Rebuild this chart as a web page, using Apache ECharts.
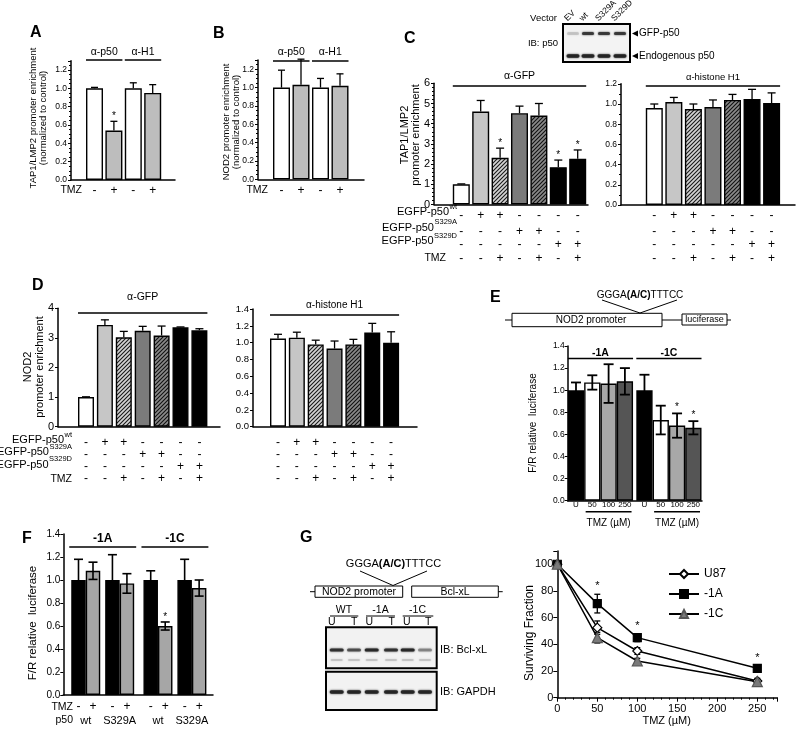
<!DOCTYPE html>
<html><head><meta charset="utf-8">
<script src="https://cdn.jsdelivr.net/npm/echarts@6/dist/echarts.min.js"></script>
<style>html,body{margin:0;padding:0;background:#fff}#c{width:799px;height:735px}</style>
</head><body><div id="c"></div><script>
const FONT = '"Liberation Sans", Arial, Helvetica, sans-serif';

// ---------------- DATA ----------------
const A_groups = ['α-p50', 'α-H1'];
const A_values = [1.0, 0.54, 1.0, 0.95];
const A_errors = [0.01, 0.10, 0.06, 0.09];
const A_tmz = ['-', '+', '-', '+'];

const B_values = [1.0, 1.03, 1.0, 1.02];
const B_errors = [0.19, 0.28, 0.10, 0.13];
const B_tmz = ['-', '+', '-', '+'];

const C_gfp_values = [1.0, 4.6, 2.31, 4.52, 4.4, 1.85, 2.26];
const C_gfp_errors = [0.02, 0.55, 0.48, 0.35, 0.6, 0.35, 0.44];
const C_h1_values = [0.96, 1.02, 0.95, 0.97, 1.04, 1.05, 1.01];
const C_h1_errors = [0.04, 0.045, 0.05, 0.07, 0.055, 0.095, 0.10];
const C_blotLanes = ['EV', 'wt', 'S329A', 'S329D'];

const D_gfp_values = [1.0, 3.44, 3.02, 3.24, 3.08, 3.36, 3.26];
const D_gfp_errors = [0.01, 0.17, 0.2, 0.15, 0.32, 0.01, 0.05];
const D_h1_values = [1.05, 1.06, 0.98, 0.93, 0.98, 1.12, 1.0];
const D_h1_errors = [0.05, 0.065, 0.05, 0.09, 0.06, 0.11, 0.13];

const rowWt    = ['-', '+', '+', '-', '-', '-', '-'];
const rowS329A = ['-', '-', '-', '+', '+', '-', '-'];
const rowS329D = ['-', '-', '-', '-', '-', '+', '+'];
const rowTMZ   = ['-', '-', '+', '-', '+', '-', '+'];

const E_values = [1.0, 1.07, 1.06, 1.08, 1.0, 0.73, 0.68, 0.66];
const E_errors = [0.07, 0.065, 0.175, 0.12, 0.14, 0.13, 0.11, 0.06];
const E_doses = ['U', '50', '100', '250', 'U', '50', '100', '250'];
const E_groups = ['-1A', '-1C'];

const F_values = [1.0, 1.08, 1.0, 0.97, 1.0, 0.6, 1.0, 0.93];
const F_errors = [0.18, 0.075, 0.22, 0.085, 0.08, 0.035, 0.18, 0.07];
const F_tmz = ['-', '+', '-', '+', '-', '+', '-', '+'];
const F_p50 = ['wt', 'S329A', 'wt', 'S329A'];

const G_doses = [0, 50, 100, 250];
const G_U87 = [100, 52.5, 35, 12.5];
const G_U87_err = [0, 5, 2.5, 2];
const G_1A = [100, 70.5, 45, 22];
const G_1A_err = [0, 7, 3, 1.5];
const G_1C = [100, 45, 27.5, 12];
const G_1C_err = [0, 4, 2, 1];
const G_blotGroups = ['WT', '-1A', '-1C'];
const G_blotLanes = ['U', 'T'];

// ---------------- STYLE HELPERS ----------------
function hatch(bg, fg, s) {
  const c = document.createElement('canvas'); c.width = s; c.height = s;
  const g = c.getContext('2d');
  g.fillStyle = bg; g.fillRect(0, 0, s, s);
  g.strokeStyle = fg; g.lineWidth = 1.1;
  g.beginPath();
  g.moveTo(-1, s + 1); g.lineTo(s + 1, -1);
  g.moveTo(-1, 1); g.lineTo(1, -1);
  g.moveTo(s - 1, s + 1); g.lineTo(s + 1, s - 1);
  g.stroke();
  return { image: c, repeat: 'repeat' };
}
const W = '#ffffff', K = '#000000';
const HL = hatch('#d4d4d4', '#1a1a1a', 4);
const HD = hatch('#8a8a8a', '#111111', 4);
const CD_COLORS = [W, '#c6c6c6', HL, '#7b7b7b', HD, K, K];

const option = {
  animation: false, backgroundColor: '#fff',
  textStyle: { fontFamily: FONT, color: '#000' },
  grid: [], xAxis: [], yAxis: [], series: [], graphic: []
};
const GR = option.graphic;

function tickFmt(interval, dec) {
  return v => (Math.abs(v / interval - Math.round(v / interval)) < 1e-6) ? v.toFixed(dec) : '';
}
function txt(x, y, text, size, o = {}) {
  GR.push({ type: 'text', x, y, rotation: o.rot || 0, silent: true, z: 10,
    style: { text, fill: '#000', fontSize: size, fontFamily: FONT, fontWeight: o.bold ? 'bold' : 'normal',
      align: o.align || 'center', verticalAlign: o.va || 'middle', lineHeight: o.lh, rich: o.rich } });
}
function ln(x1, y1, x2, y2, w = 1) {
  GR.push({ type: 'line', silent: true, z: 10, shape: { x1, y1, x2, y2 }, style: { stroke: '#000', lineWidth: w } });
}
function box(x, y, w, h, fill, lw) {
  GR.push({ type: 'rect', silent: true, z: 9, shape: { x, y, width: w, height: h }, style: { fill, stroke: '#000', lineWidth: lw } });
}
function band(cx, cy, w, h, color, op) {
  GR.push({ type: 'rect', silent: true, z: 10, shape: { x: cx - w / 2, y: cy - h / 2, width: w, height: h, r: h / 2 },
    style: { fill: color, opacity: op, shadowBlur: 2, shadowColor: color } });
}
const mctx = document.createElement('canvas').getContext('2d');
function tw(t, s) { mctx.font = s + 'px "Liberation Sans"'; return mctx.measureText(t).width; }
function supLabel(right, y, base, sup, size, supSize) {
  const sw = tw(sup, supSize);
  txt(right - sw - 0.5, y, base, size, { align: 'right' });
  txt(right - sw, y - 5.5, sup, supSize, { align: 'left' });
}

// ---------------- BAR PANEL BUILDER ----------------
function addBarPanel(p) {
  const gi = option.grid.length;
  const top = p.zeroY - p.ymax * p.ppu;
  const pos = p.pos || (i => i);
  option.grid.push({ left: p.left, top: top, width: p.right - p.left, height: p.zeroY - top });
  option.xAxis.push({ type: 'value', gridIndex: gi, min: (p.left - p.fc) / p.step, max: (p.right - p.fc) / p.step,
    axisLine: { onZero: false, lineStyle: { color: '#000', width: 1.5 } }, axisTick: { show: false },
    axisLabel: { show: false }, splitLine: { show: false } });
  option.yAxis.push({ type: 'value', gridIndex: gi, min: 0, max: p.ymax, interval: p.interval,
    axisLine: { show: true, onZero: false, lineStyle: { color: '#000', width: 1.5 } },
    axisTick: { show: true, length: 3, lineStyle: { color: '#000', width: 1 } },
    minorTick: { show: !!p.minor, splitNumber: p.minor || 5, length: 2, lineStyle: { color: '#000', width: 1 } },
    splitLine: { show: false }, minorSplitLine: { show: false },
    axisLabel: { fontSize: p.labelSize, color: '#000', fontFamily: FONT, margin: p.labelMargin || 4,
      formatter: tickFmt(p.interval, p.decimals) } });
  option.series.push({ type: 'bar', xAxisIndex: gi, yAxisIndex: gi, barWidth: p.barW, z: 2, silent: true,
    itemStyle: { borderColor: '#000', borderWidth: 1.4 },
    data: p.values.map((v, i) => ({ value: [pos(i), v], itemStyle: { color: p.colors[i] } })) });
  const ew = p.errW || 1.3;
  option.series.push({ type: 'custom', xAxisIndex: gi, yAxisIndex: gi, z: 3, silent: true,
    data: p.values.map((v, i) => [pos(i), v, p.errors[i]]),
    renderItem: (params, api) => {
      const x = api.value(0), v = api.value(1), e = api.value(2);
      const t = api.coord([x, v + e]), b = api.coord([x, p.both ? v - e : v]);
      const hw = p.capW / 2, st = { stroke: '#000', lineWidth: ew };
      const ch = [
        { type: 'line', shape: { x1: t[0], y1: t[1], x2: b[0], y2: b[1] }, style: st },
        { type: 'line', shape: { x1: t[0] - hw, y1: t[1], x2: t[0] + hw, y2: t[1] }, style: st }];
      if (p.both) ch.push({ type: 'line', shape: { x1: b[0] - hw, y1: b[1], x2: b[0] + hw, y2: b[1] }, style: st });
      return { type: 'group', children: ch };
    } });
  const items = [];
  (p.stars || []).forEach(i => items.push({ k: 's', x: pos(i), v: p.values[i] + p.errors[i] }));
  (p.rows || []).forEach(r => r.labels.forEach((t, i) => items.push({ k: 't', x: pos(i), py: r.y, text: t, size: r.size })));
  (p.groups || []).forEach(g => {
    const xs = pos(g.from), xe = pos(g.to);
    if (!g.noLine) items.push({ k: 'l', x1: xs, x2: xe, py: g.lineY, ext: g.ext || 0 });
    items.push({ k: 't', x: (xs + xe) / 2, py: g.textY, text: g.text, size: g.size, bold: g.bold });
  });
  option.series.push({ type: 'custom', xAxisIndex: gi, yAxisIndex: gi, z: 5, silent: true,
    data: items.map(it => [it.x !== undefined ? it.x : it.x1, 0]),
    renderItem: (params, api) => {
      const it = items[params.dataIndex];
      if (it.k === 's') {
        const c = api.coord([it.x, it.v]);
        return { type: 'text', x: c[0], y: c[1] - (p.starGap || 4), style: { text: '*', fill: '#000', fontSize: 10, fontFamily: FONT, align: 'center', verticalAlign: 'middle' } };
      }
      if (it.k === 't') {
        const c = api.coord([it.x, 0]);
        return { type: 'text', x: c[0], y: it.py, style: { text: it.text, fill: '#000', fontSize: it.size, fontFamily: FONT,
          fontWeight: it.bold ? 'bold' : 'normal', align: 'center', verticalAlign: 'middle' } };
      }
      const a = api.coord([it.x1, 0]), b = api.coord([it.x2, 0]);
      const hw = p.barW / 2 + it.ext;
      return { type: 'line', shape: { x1: a[0] - hw, y1: it.py, x2: b[0] + hw, y2: it.py }, style: { stroke: '#000', lineWidth: 1.5 } };
    } });
}

// ---------------- PANEL A ----------------
addBarPanel({ left: 71, right: 175, zeroY: 180, ppu: 91.7, ymax: 1.3, interval: 0.2, minor: 4, decimals: 1, labelSize: 8.5,
  fc: 94.5, step: 19.4, barW: 17, capW: 7, values: A_values, errors: A_errors, colors: [W, '#bdbdbd', W, '#bdbdbd'],
  stars: [1], starGap: 5, rows: [{ y: 190.5, labels: A_tmz, size: 12 }],
  groups: [{ from: 0, to: 1, text: A_groups[0], textY: 52, lineY: 60, size: 10.5 },
           { from: 2, to: 3, text: A_groups[1], textY: 52, lineY: 60, size: 10.5 }] });
txt(30, 33, 'A', 16, { bold: true, align: 'left' });
txt(38.5, 118, 'TAP1/LMP2 promoter enrichment\n(normalized to control)', 9.5, { rot: Math.PI / 2, lh: 10 });
txt(82, 190.5, 'TMZ', 10.5, { align: 'right' });

// ---------------- PANEL B ----------------
addBarPanel({ left: 258, right: 364, zeroY: 179.3, ppu: 91.7, ymax: 1.3, interval: 0.2, minor: 4, decimals: 1, labelSize: 8.5,
  fc: 281.5, step: 19.5, barW: 17, capW: 7, values: B_values, errors: B_errors, colors: [W, '#bdbdbd', W, '#bdbdbd'],
  rows: [{ y: 190.5, labels: B_tmz, size: 12 }],
  groups: [{ from: 0, to: 1, text: A_groups[0], textY: 52.5, lineY: 61, size: 10.5 },
           { from: 2, to: 3, text: A_groups[1], textY: 52.5, lineY: 61, size: 10.5 }] });
txt(213, 33.5, 'B', 16, { bold: true, align: 'left' });
txt(231.5, 122, 'NOD2 promoter enrichment\n(normalized to control)', 9.5, { rot: Math.PI / 2, lh: 10 });
txt(268, 190.5, 'TMZ', 10.5, { align: 'right' });

// ---------------- PANEL C ----------------
const rowsC = [rowWt, rowS329A, rowS329D, rowTMZ];
const rowYC = [216, 231.5, 245, 258.5];
addBarPanel({ left: 434, right: 588, zeroY: 204.5, ppu: 20.2, ymax: 6, interval: 1, minor: 5, decimals: 0, labelSize: 11,
  fc: 461.3, step: 19.4, barW: 17, capW: 8, values: C_gfp_values, errors: C_gfp_errors, colors: CD_COLORS,
  stars: [2, 5, 6], starGap: 5, rows: rowsC.map((r, k) => ({ y: rowYC[k], labels: r, size: 12 })),
  groups: [{ from: 0, to: 6, text: 'α-GFP', textY: 76, lineY: 86, size: 10.5 }] });
addBarPanel({ left: 621, right: 795, zeroY: 205, ppu: 101, ymax: 1.2, interval: 0.2, minor: 2, decimals: 1, labelSize: 8.5,
  fc: 654.3, step: 19.55, barW: 17, capW: 8, values: C_h1_values, errors: C_h1_errors, colors: CD_COLORS,
  rows: rowsC.map((r, k) => ({ y: rowYC[k], labels: r, size: 12 })),
  groups: [{ from: 0, to: 6, text: 'α-histone H1', textY: 77, lineY: 86, size: 9.5 }] });
txt(404, 39, 'C', 16, { bold: true, align: 'left' });
txt(410, 135, 'TAP1/LMP2\npromoter enrichment', 11, { rot: Math.PI / 2, lh: 11 });
supLabel(457, 212, 'EGFP-p50', 'wt', 11, 7.5);
supLabel(457, 227.5, 'EGFP-p50', 'S329A', 11, 7.5);
supLabel(457, 241, 'EGFP-p50', 'S329D', 11, 7.5);
txt(446, 258.5, 'TMZ', 10.5, { align: 'right' });
// blot C
box(563, 24, 67, 38, '#f3f3f3', 2);
const laneC = [573, 588, 604, 620];
C_blotLanes.forEach((t, i) => {
  txt(laneC[i] - 4, 23, t, 8.5, { rot: Math.PI / 4, align: 'left', va: 'bottom' });
  band(laneC[i], 33.5, 12, 3, i === 0 ? '#999' : '#333', i === 0 ? 0.35 : 0.9);
  band(laneC[i], 56, 13, 3.5, '#222', 0.95);
});
txt(557, 18, 'Vector', 9.5, { align: 'right' });
txt(558, 43, 'IB: p50', 9.5, { align: 'right' });
GR.push({ type: 'polygon', silent: true, z: 10, shape: { points: [[632, 33.5], [638, 30.5], [638, 36.5]] }, style: { fill: '#000' } });
GR.push({ type: 'polygon', silent: true, z: 10, shape: { points: [[632, 56], [638, 53], [638, 59]] }, style: { fill: '#000' } });
txt(639, 33.5, 'GFP-p50', 10, { align: 'left' });
txt(639, 56, 'Endogenous p50', 10, { align: 'left' });

// ---------------- PANEL D ----------------
const rowYD = [442.3, 454.3, 466.7, 479];
addBarPanel({ left: 58, right: 220, zeroY: 426.7, ppu: 29.6, ymax: 4, interval: 1, decimals: 0, labelSize: 11,
  fc: 86, step: 18.9, barW: 16, capW: 8, values: D_gfp_values, errors: D_gfp_errors, colors: CD_COLORS,
  rows: rowsC.map((r, k) => ({ y: rowYD[k], labels: r, size: 12 })),
  groups: [{ from: 0, to: 6, text: 'α-GFP', textY: 297, lineY: 313, size: 10.5 }] });
addBarPanel({ left: 253, right: 417, zeroY: 426.7, ppu: 84, ymax: 1.4, interval: 0.2, decimals: 1, labelSize: 9.5,
  fc: 278, step: 18.85, barW: 16, capW: 8, values: D_h1_values, errors: D_h1_errors, colors: CD_COLORS,
  rows: rowsC.map((r, k) => ({ y: rowYD[k], labels: r, size: 12 })),
  groups: [{ from: 0, to: 6, text: 'α-histone H1', textY: 305, lineY: 315, size: 10 }] });
txt(32, 286, 'D', 16, { bold: true, align: 'left' });
txt(34, 367, 'NOD2\npromoter enrichment', 11, { rot: Math.PI / 2, lh: 12 });
supLabel(72, 440, 'EGFP-p50', 'wt', 11, 7.5);
supLabel(72, 452.3, 'EGFP-p50', 'S329A', 11, 7.5);
supLabel(72, 464.7, 'EGFP-p50', 'S329D', 11, 7.5);
txt(72, 479, 'TMZ', 10.5, { align: 'right' });

// ---------------- PANEL E ----------------
addBarPanel({ left: 567.7, right: 702, zeroY: 500.7, ppu: 110.5, ymax: 1.4, interval: 0.2, decimals: 1, labelSize: 8.5, labelMargin: 3,
  fc: 576, step: 16.3, barW: 16.3, capW: 10, errW: 1.8, both: true, pos: i => i + (i >= 4 ? 0.2 : 0),
  values: E_values, errors: E_errors, colors: [K, W, '#a8a8a8', '#555555', K, W, '#a8a8a8', '#555555'],
  stars: [6, 7], starGap: 6, rows: [{ y: 505, labels: E_doses, size: 8 }],
  groups: [{ from: 0, to: 3, text: E_groups[0], textY: 353, lineY: 358.5, size: 10.5, bold: true },
           { from: 4, to: 7, text: E_groups[1], textY: 353, lineY: 358.5, size: 10.5, bold: true },
           { from: 1, to: 3, text: 'TMZ (µM)', textY: 523, lineY: 511.7, size: 10, ext: -1.5 },
           { from: 5, to: 7, text: 'TMZ (µM)', textY: 523, lineY: 511.7, size: 10, ext: -1.5 }] });
txt(490, 298, 'E', 16, { bold: true, align: 'left' });
txt(533, 423, 'F/R relative  luciferase', 10, { rot: Math.PI / 2 });
// schematic E
txt(640, 295, '{n|GGGA}{b|(A/C)}{n|TTTCC}', 10, { rich: { n: { fontSize: 10, fontFamily: FONT }, b: { fontSize: 10, fontFamily: FONT, fontWeight: 'bold' } } });
ln(602, 300, 640, 313); ln(677, 300, 640, 313);
ln(505, 320, 512, 320); box(512, 313.3, 150, 13.4, '#fff', 1);
txt(591, 320.5, 'NOD2 promoter', 10);
ln(662, 320, 682, 320); box(682, 314, 45, 11, '#fff', 1); ln(727, 320, 731, 320);
txt(704.5, 319.5, 'luciferase', 9);

// ---------------- PANEL F ----------------
addBarPanel({ left: 63.3, right: 213, zeroY: 695, ppu: 115, ymax: 1.4, interval: 0.2, decimals: 1, labelSize: 10, labelMargin: 3,
  fc: 78.5, step: 14.5, barW: 14.5, capW: 9, errW: 1.6, both: true,
  pos: i => i + Math.floor(i / 2) * 0.34 + Math.floor(i / 4) * 0.3,
  values: F_values, errors: F_errors, colors: [K, '#a6a6a6', K, '#a6a6a6', K, '#a6a6a6', K, '#a6a6a6'],
  stars: [5], starGap: 5, rows: [{ y: 707, labels: F_tmz, size: 12 }],
  groups: [{ from: 0, to: 3, text: E_groups[0], textY: 538.5, lineY: 547, size: 12, bold: true, ext: 2 },
           { from: 4, to: 7, text: E_groups[1], textY: 538.5, lineY: 547, size: 12, bold: true, ext: 2 },
           { from: 0, to: 1, text: F_p50[0], textY: 720.5, noLine: true, size: 11 },
           { from: 2, to: 3, text: F_p50[1], textY: 720.5, noLine: true, size: 11 },
           { from: 4, to: 5, text: F_p50[2], textY: 720.5, noLine: true, size: 11 },
           { from: 6, to: 7, text: F_p50[3], textY: 720.5, noLine: true, size: 11 }] });
txt(22, 539, 'F', 16, { bold: true, align: 'left' });
txt(33, 623, 'F/R relative  luciferase', 11.5, { rot: Math.PI / 2 });
txt(73, 707, 'TMZ', 10.5, { align: 'right' });
txt(73, 720.5, 'p50', 10.5, { align: 'right' });

// ---------------- PANEL G (schematic + blot) ----------------
txt(300, 538, 'G', 16, { bold: true, align: 'left' });
txt(393.5, 564, '{n|GGGA}{b|(A/C)}{n|TTTCC}', 11, { rich: { n: { fontSize: 11, fontFamily: FONT }, b: { fontSize: 11, fontFamily: FONT, fontWeight: 'bold' } } });
ln(360, 571, 393, 585.5); ln(427, 571, 393, 585.5);
ln(310, 591.7, 315, 591.7); box(315, 586, 87.7, 11.3, '#fff', 1);
txt(359, 592, 'NOD2 promoter', 10.5);
box(411.7, 586, 86.6, 11.3, '#fff', 1); ln(498.3, 591.7, 502.7, 591.7);
txt(455, 592, 'Bcl-xL', 10.5);
const gCenters = [344, 380.5, 417.5];
const gLines = [[330, 358.3], [366, 395], [402.7, 433.3]];
const laneG = [331.7, 354.3, 369.3, 391.7, 406.7, 428.3];
G_blotGroups.forEach((t, i) => { txt(gCenters[i], 610.5, t, 10.5); ln(gLines[i][0], 616, gLines[i][1], 616, 1); });
laneG.forEach((x, i) => txt(x, 622.5, G_blotLanes[i % 2], 10.5));
box(326, 627.3, 110.7, 41, '#f2f2f2', 2);
box(326, 671.7, 110.7, 38.3, '#f2f2f2', 2);
const bandCenters = [336.7, 354, 371.7, 391, 407.7, 425];
const bclOp = [0.8, 0.6, 0.9, 0.8, 0.9, 0.35];
bandCenters.forEach((x, i) => {
  band(x, 650, 14, 3, '#222', bclOp[i]);
  band(x, 660, 12, 2, '#999', 0.35);
  band(x, 692, 14, 3.5, '#222', 0.92);
});
txt(440, 650, 'IB: Bcl-xL', 11, { align: 'left' });
txt(440, 692, 'IB: GAPDH', 11, { align: 'left' });

// ---------------- PANEL G (survival curve) ----------------
(function () {
  const gi = option.grid.length;
  option.grid.push({ left: 557.3, top: 550.9, width: 220, height: 146.8 });
  option.xAxis.push({ type: 'value', gridIndex: gi, min: 0, max: 275, interval: 50,
    axisLine: { onZero: false, lineStyle: { color: '#000', width: 1.5 } },
    axisTick: { length: 4, lineStyle: { color: '#000', width: 1 } },
    minorTick: { show: true, splitNumber: 5, length: 2, lineStyle: { color: '#000' } },
    axisLabel: { fontSize: 11, color: '#000', fontFamily: FONT, margin: 6, formatter: tickFmt(50, 0) },
    splitLine: { show: false } });
  option.yAxis.push({ type: 'value', gridIndex: gi, min: 0, max: 110, interval: 20,
    axisLine: { onZero: false, lineStyle: { color: '#000', width: 1.5 } },
    axisTick: { length: 4, lineStyle: { color: '#000', width: 1 } },
    axisLabel: { fontSize: 11, color: '#000', fontFamily: FONT, margin: 4, formatter: tickFmt(20, 0) },
    splitLine: { show: false } });
  const mk = (name, vals, symbol, size, fill, border) => ({
    type: 'line', name, xAxisIndex: gi, yAxisIndex: gi, z: 4, silent: true,
    data: G_doses.map((d, i) => [d, vals[i]]), symbol, symbolSize: size, showAllSymbol: true,
    lineStyle: { color: '#000', width: 1.5 }, itemStyle: { color: fill, borderColor: border, borderWidth: 1.2 }
  });
  option.series.push(mk('U87', G_U87, 'diamond', 9, '#fff', '#000'));
  option.series.push(mk('-1A', G_1A, 'rect', 8, '#000', '#000'));
  option.series.push(mk('-1C', G_1C, 'triangle', 10, '#7a7a7a', '#555'));
  const errs = [];
  [[G_U87, G_U87_err], [G_1A, G_1A_err], [G_1C, G_1C_err]].forEach(([v, e]) =>
    G_doses.forEach((d, i) => { if (e[i] > 0) errs.push([d, v[i], e[i]]); }));
  option.series.push({ type: 'custom', xAxisIndex: gi, yAxisIndex: gi, z: 3, silent: true, data: errs,
    renderItem: (params, api) => {
      const x = api.value(0), v = api.value(1), e = api.value(2);
      const t = api.coord([x, v + e]), b = api.coord([x, v - e]);
      const st = { stroke: '#000', lineWidth: 1.3 };
      return { type: 'group', children: [
        { type: 'line', shape: { x1: t[0], y1: t[1], x2: b[0], y2: b[1] }, style: st },
        { type: 'line', shape: { x1: t[0] - 3, y1: t[1], x2: t[0] + 3, y2: t[1] }, style: st },
        { type: 'line', shape: { x1: b[0] - 3, y1: b[1], x2: b[0] + 3, y2: b[1] }, style: st }] };
    } });
  const stars = [1, 2, 3].map(i => [G_doses[i], G_1A[i] + G_1A_err[i]]);
  option.series.push({ type: 'custom', xAxisIndex: gi, yAxisIndex: gi, z: 5, silent: true, data: stars,
    renderItem: (params, api) => {
      const c = api.coord([api.value(0), api.value(1)]);
      return { type: 'text', x: c[0], y: c[1] - 8, style: { text: '*', fill: '#000', fontSize: 11, fontFamily: FONT, align: 'center', verticalAlign: 'middle' } };
    } });
  option.legend = { data: ['U87', '-1A', '-1C'], orient: 'vertical', left: 663, top: 563, itemWidth: 30, itemHeight: 10,
    itemGap: 8, selectedMode: false, textStyle: { fontSize: 12, color: '#000', fontFamily: FONT } };
  txt(530, 633, 'Surviving Fraction', 12, { rot: Math.PI / 2 });
  txt(666.7, 721, 'TMZ (µM)', 11);
})();

const chart = echarts.init(document.getElementById('c'), null, { renderer: 'canvas' });
chart.setOption(option);
</script></body></html>
